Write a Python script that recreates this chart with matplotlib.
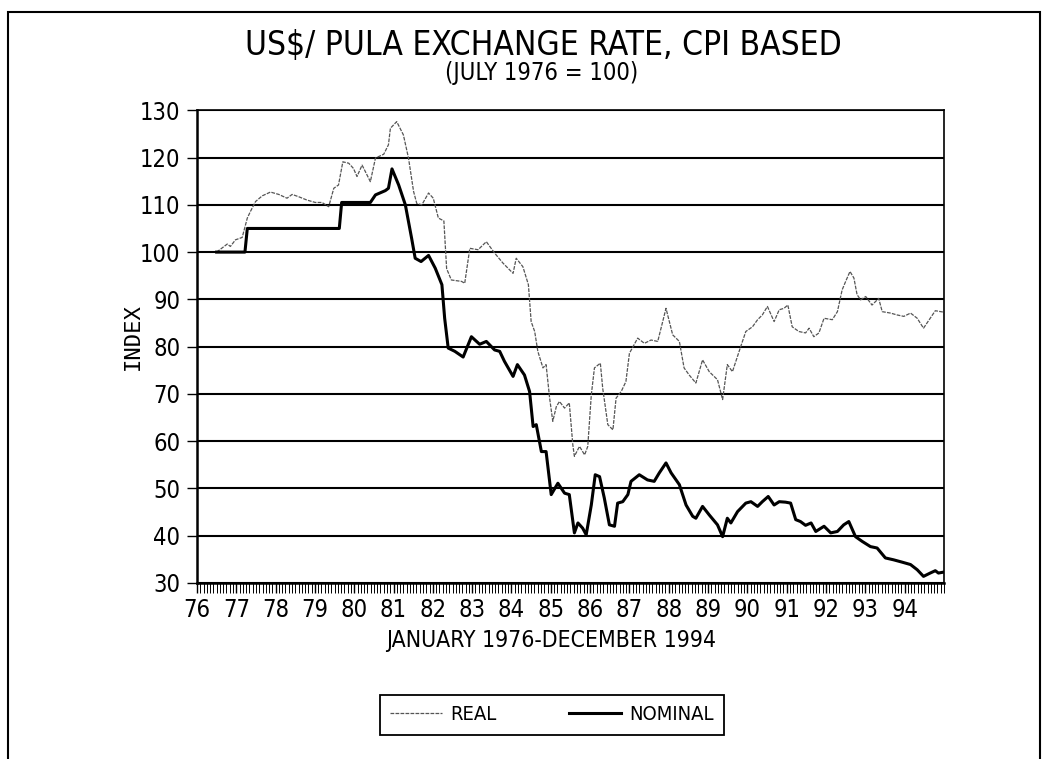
import matplotlib
matplotlib.use('Agg')
import matplotlib.pyplot as plt
from matplotlib import font_manager
from matplotlib.patches import Rectangle
from matplotlib.ticker import MultipleLocator

# The scan uses a narrow plotter font; use a condensed face if one is installed
names = {(f.name, f.stretch) for f in font_manager.fontManager.ttflist}
if ('Liberation Sans Narrow', 'condensed') in names or ('Liberation Sans Narrow', 'normal') in names:
    plt.rcParams['font.family'] = ['Liberation Sans Narrow']
    narrow = True
elif ('DejaVu Sans', 'condensed') in names:
    plt.rcParams['font.family'] = ['DejaVu Sans']
    plt.rcParams['font.stretch'] = 'condensed'
    narrow = True
else:
    plt.rcParams['font.family'] = ['Liberation Sans', 'DejaVu Sans']
    narrow = False
print('narrow font:', narrow)

# Real (CPI based) index; dates as fractional years
real_year = [1976.50, 1976.77, 1976.85, 1976.98, 1977.15, 1977.28, 1977.36, 1977.49, 1977.66, 1977.87,
             1978.08, 1978.29, 1978.42, 1978.59, 1978.80, 1979.01, 1979.18, 1979.35, 1979.48, 1979.60,
             1979.71, 1979.86, 1979.98, 1980.07, 1980.20, 1980.41, 1980.54, 1980.75, 1980.87, 1980.92,
             1981.08, 1981.25, 1981.38, 1981.51, 1981.59, 1981.72, 1981.89, 1982.01, 1982.14, 1982.28,
             1982.35, 1982.47, 1982.73, 1982.81, 1982.94, 1983.15, 1983.36, 1983.57, 1983.78, 1984.04,
             1984.12, 1984.29, 1984.43, 1984.50, 1984.59, 1984.67, 1984.80, 1984.88, 1984.97, 1985.05,
             1985.14, 1985.22, 1985.35, 1985.47, 1985.56, 1985.60, 1985.73, 1985.86, 1985.94, 1986.03,
             1986.11, 1986.26, 1986.32, 1986.45, 1986.58, 1986.66, 1986.79, 1986.91, 1987.00, 1987.21,
             1987.38, 1987.55, 1987.72, 1987.93, 1988.10, 1988.27, 1988.39, 1988.52, 1988.69, 1988.86,
             1989.03, 1989.24, 1989.37, 1989.49, 1989.62, 1989.83, 1989.96, 1990.13, 1990.26, 1990.38,
             1990.51, 1990.68, 1990.81, 1990.93, 1991.03, 1991.14, 1991.31, 1991.48, 1991.57, 1991.69,
             1991.82, 1991.95, 1992.16, 1992.29, 1992.41, 1992.50, 1992.61, 1992.71, 1992.79, 1992.88,
             1993.01, 1993.17, 1993.34, 1993.43, 1993.64, 1993.81, 1993.98, 1994.15, 1994.32, 1994.48,
             1994.65, 1994.78, 1994.99]
real_val = [100.0, 101.7, 101.2, 102.6, 103.1, 107.2, 108.6, 110.7, 111.9, 112.7,
            112.2, 111.4, 112.2, 111.7, 111.0, 110.5, 110.5, 109.6, 113.5, 114.2,
            119.1, 118.8, 117.7, 116.0, 118.4, 114.9, 119.9, 120.7, 122.7, 126.2,
            127.6, 124.8, 119.9, 112.8, 110.3, 110.0, 112.5, 111.4, 107.2, 106.6,
            96.5, 94.1, 93.8, 93.4, 100.8, 100.5, 102.2, 99.8, 97.7, 95.5,
            98.7, 96.9, 93.1, 85.3, 83.2, 79.0, 75.5, 76.2, 69.1, 64.2,
            67.3, 68.4, 67.0, 68.1, 59.2, 56.8, 58.9, 57.1, 58.9, 69.8,
            75.5, 76.5, 71.2, 63.5, 62.4, 69.1, 70.5, 72.6, 78.6, 81.8,
            80.7, 81.4, 81.1, 88.1, 82.5, 81.1, 75.5, 74.0, 72.3, 77.2,
            74.7, 73.0, 68.8, 76.2, 74.7, 80.0, 83.2, 84.2, 85.7, 86.7,
            88.5, 85.3, 87.8, 88.1, 88.8, 84.2, 83.2, 82.9, 83.9, 82.1,
            82.9, 86.0, 85.7, 87.4, 92.0, 93.8, 95.9, 94.5, 91.0, 89.9,
            90.6, 88.8, 90.2, 87.4, 87.1, 86.7, 86.4, 87.1, 86.0, 83.9,
            86.0, 87.6, 87.3]

# Nominal index
nom_year = [1976.50, 1977.22, 1977.28, 1979.62, 1979.68, 1980.41, 1980.54, 1980.79, 1980.87, 1980.96,
            1981.13, 1981.30, 1981.46, 1981.55, 1981.70, 1981.89, 1982.06, 1982.23, 1982.30, 1982.39,
            1982.56, 1982.77, 1982.98, 1983.19, 1983.36, 1983.57, 1983.70, 1983.82, 1984.04, 1984.15,
            1984.33, 1984.46, 1984.55, 1984.63, 1984.76, 1984.88, 1985.01, 1985.18, 1985.35, 1985.47,
            1985.60, 1985.69, 1985.81, 1985.90, 1986.03, 1986.13, 1986.24, 1986.36, 1986.49, 1986.62,
            1986.70, 1986.83, 1986.96, 1987.04, 1987.25, 1987.46, 1987.63, 1987.76, 1987.93, 1988.06,
            1988.27, 1988.44, 1988.61, 1988.69, 1988.86, 1989.03, 1989.24, 1989.37, 1989.49, 1989.58,
            1989.75, 1989.96, 1990.09, 1990.26, 1990.38, 1990.53, 1990.68, 1990.81, 1990.97, 1991.10,
            1991.23, 1991.35, 1991.48, 1991.62, 1991.74, 1991.95, 1992.12, 1992.29, 1992.45, 1992.58,
            1992.75, 1992.92, 1993.13, 1993.30, 1993.51, 1993.72, 1993.94, 1994.15, 1994.32, 1994.48,
            1994.65, 1994.78, 1994.86, 1994.99]
nom_val = [100.0, 100.0, 105.0, 105.0, 110.5, 110.5, 112.1, 113.0, 113.5, 117.6,
           114.2, 110.0, 102.9, 98.7, 98.0, 99.3, 96.6, 93.1, 86.0, 79.7,
           79.0, 77.8, 82.1, 80.5, 81.1, 79.3, 79.0, 76.9, 73.7, 76.2,
           74.0, 70.5, 63.1, 63.5, 57.8, 57.8, 48.7, 51.1, 49.0, 48.7,
           40.6, 42.7, 41.6, 40.2, 46.5, 52.9, 52.5, 48.0, 42.3, 42.0,
           46.9, 47.2, 48.7, 51.5, 52.9, 51.8, 51.5, 53.3, 55.4, 53.3,
           50.8, 46.5, 44.1, 43.7, 46.2, 44.4, 42.3, 39.8, 43.7, 42.7,
           45.1, 46.9, 47.2, 46.2, 47.2, 48.3, 46.5, 47.2, 47.1, 46.9,
           43.4, 43.0, 42.2, 42.7, 40.9, 42.0, 40.6, 40.9, 42.3, 43.0,
           39.8, 38.8, 37.7, 37.4, 35.3, 34.9, 34.4, 33.9, 32.8, 31.4,
           32.1, 32.6, 32.1, 32.3]

year_ticks = list(range(1976, 1995))
year_labels = [str(y)[2:] for y in year_ticks]

fig = plt.figure(figsize=(10.45, 7.59), dpi=100)
ax = fig.add_axes([0.1885, 0.2319, 0.7148, 0.6228])

ax.plot(real_year, real_val, color='#555555', lw=0.9, ls=(0, (3, 1)), label='REAL')
ax.plot(nom_year, nom_val, color='black', lw=2.2, label='NOMINAL')

ax.set_xlim(1976, 1995)
ax.set_ylim(30, 130)
ax.set_xticks(year_ticks)
ax.set_xticklabels(year_labels)
ax.xaxis.set_minor_locator(MultipleLocator(1 / 12))
ax.yaxis.set_major_locator(MultipleLocator(10))
ax.tick_params(axis='both', direction='out', length=7, width=1, labelsize=17, colors='black')
ax.tick_params(axis='x', which='minor', direction='out', length=7, width=0.7)
ax.tick_params(axis='x', pad=4)
ax.tick_params(axis='y', pad=5)
ax.yaxis.grid(True, color='black', lw=1.5)
ax.set_axisbelow(True)
for side in ['left', 'bottom']:
    ax.spines[side].set_linewidth(1.8)
for side in ['top', 'right']:
    ax.spines[side].set_linewidth(1.2)

fig.text(0.52, 1 - 45 / 759, 'US$/ PULA EXCHANGE RATE, CPI BASED', ha='center', va='center', fontsize=24)
fig.text(0.518, 1 - 73 / 759, '(JULY 1976 = 100)', ha='center', va='center', fontsize=17)
fig.text(0.527, 1 - 641 / 759, 'JANUARY 1976-DECEMBER 1994', ha='center', va='center', fontsize=16.5)
fig.text(133 / 1045, 1 - 337 / 759, 'INDEX', ha='center', va='center', rotation=90,
         fontsize=16, family='DejaVu Sans Mono', stretch='normal')

leg = ax.legend(loc='center', bbox_to_anchor=(552 / 1045, 1 - 715 / 759), bbox_transform=fig.transFigure,
                ncol=2, frameon=True, fancybox=False, framealpha=1, edgecolor='black',
                fontsize=14.5, handlelength=2.6, columnspacing=3.6, borderpad=0.5,
                handletextpad=0.4, borderaxespad=0)
leg.get_frame().set_linewidth(1.3)

# page frame of the scanned sheet
fig.add_artist(Rectangle((8 / 1045, -0.05), 1032 / 1045, 1.05 - 12 / 759, transform=fig.transFigure,
                         fill=False, lw=1.5, ec='black', clip_on=False))

fig.savefig('out.png', dpi=100)
